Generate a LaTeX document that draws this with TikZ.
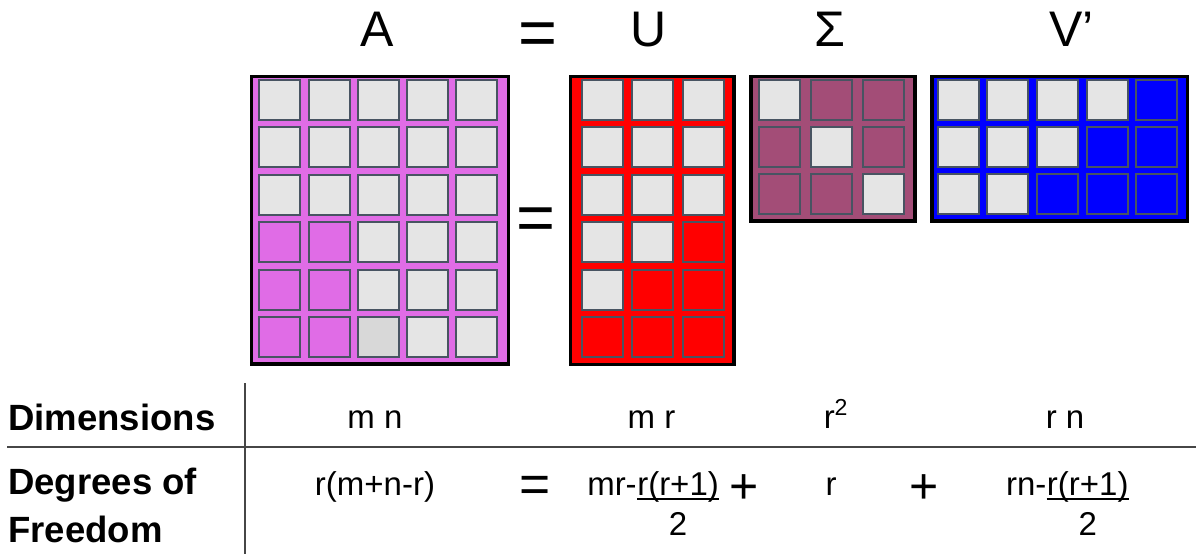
\documentclass[tikz,border=0pt]{standalone}
\usepackage{fontspec}
\setmainfont{Liberation Sans}
\usetikzlibrary{calc}
\newdimen\pxu \pxu=0.75pt
\definecolor{cv}{RGB}{224,108,230}
\definecolor{cs}{RGB}{163,77,119}
\definecolor{cr}{RGB}{255,0,0}
\definecolor{cb}{RGB}{0,0,255}
\definecolor{cg}{RGB}{229,229,229}
\definecolor{cd}{RGB}{216,216,216}
\definecolor{cellline}{RGB}{72,84,98}
\definecolor{rulegray}{RGB}{70,70,70}
\tikzset{
  matbox/.style={draw=black, line width=2.6pt, inner sep=0pt, anchor=north west},
  cell/.style={draw=cellline, line width=1.5pt, inner sep=0pt, minimum width=41\pxu, minimum height=40\pxu, anchor=north west},
  hdr/.style={inner sep=0pt, font=\fontsize{37.5}{45}\selectfont},
  bigeq/.style={inner sep=0pt, font=\fontsize{50}{60}\selectfont},
  tbleq/.style={inner sep=0pt, font=\fontsize{40}{48}\selectfont},
  tblplus/.style={inner sep=0pt, font=\fontsize{37.5}{45}\selectfont},
  lbl/.style={inner sep=0pt, font=\bfseries\fontsize{27.4}{33}\selectfont},
  txt/.style={inner sep=0pt, font=\fontsize{24.75}{30}\selectfont},
  tblrule/.style={draw=rulegray, line width=1.2pt},
  ulrule/.style={draw=black, line width=1.3pt}
}
\newcommand\drawcells[6]{%
  \foreach \row [count=\r] in {#6} {%
    \foreach \col [count=\c] in \row {%
      \node[cell, fill=\col] (#1-\r-\c) at ({#2+(\c-1)*#4+1},{#3+(\r-1)*#5+1}) {};
    }%
  }%
}
\begin{document}
\begin{tikzpicture}[x=0.75pt,y=-0.75pt]
\useasboundingbox (0,0) rectangle (1196,554);

% headers
\node[hdr, anchor=base] (hA) at (376.7,46) {A};
\node[bigeq, anchor=base] (hEq) at (537.5,55) {=};
\node[hdr, anchor=base] (hU) at (649,46) {U};
\node[hdr, anchor=base] (hS) at (829.5,46) {Σ};
\node[hdr, anchor=base west] (hV) at (1049,46) {V’};

% matrix A
\node[matbox, fill=cv, minimum width=256.5\pxu, minimum height=287.8\pxu] (A) at (250,74.5) {};
\drawcells{A}{257.3}{77.7}{49.2}{47.45}{{cg,cg,cg,cg,cg},{cg,cg,cg,cg,cg},{cg,cg,cg,cg,cg},{cv,cv,cg,cg,cg},{cv,cv,cg,cg,cg},{cv,cv,cd,cg,cg}}

% middle equals
\node[bigeq, anchor=base] (mEq) at (536,240) {=};

% matrix U
\node[matbox, fill=cr, minimum width=163.8\pxu, minimum height=288\pxu] (U) at (568.5,74.5) {};
\drawcells{U}{580}{77.7}{50.3}{47.45}{{cg,cg,cg},{cg,cg,cg},{cg,cg,cg},{cg,cg,cr},{cg,cr,cr},{cr,cr,cr}}

% matrix Sigma
\node[matbox, fill=cs, minimum width=164.2\pxu, minimum height=144.8\pxu] (S) at (749.1,74.5) {};
\drawcells{S}{757.3}{78}{51.85}{46.8}{{cg,cs,cs},{cs,cg,cs},{cs,cs,cg}}

% matrix V'
\node[matbox, fill=cb, minimum width=255.9\pxu, minimum height=144.8\pxu] (V) at (930.1,74.5) {};
\drawcells{V}{935.7}{78}{49.65}{46.8}{{cg,cg,cg,cg,cb},{cg,cg,cg,cb,cb},{cg,cg,cb,cb,cb}}

% table rules
\coordinate (vtop) at (245,383);
\coordinate (vbot) at (245,554);
\coordinate (hleft) at (7,447);
\coordinate (hright) at (1196,447);
\draw[tblrule] (vtop) -- (vbot);
\draw[tblrule] (hleft) -- (hright);

% row labels
\node[lbl, anchor=base west] (dim) at (8,430) {Dimensions};
\node[lbl, anchor=base west] (dof1) at (8,494) {Degrees of};
\node[lbl, anchor=base west] (dof2) at (8,542) {Freedom};

% dimensions row
\node[txt, anchor=base] (dA) at (375,428) {m n};
\node[txt, anchor=base] (dU) at (651.5,428) {m r};
\node[txt, anchor=base] (dS) at (836,428) {r\textsuperscript{2}};
\node[txt, anchor=base] (dV) at (1065,428) {r n};

% degrees of freedom row
\node[txt, anchor=base] (fA) at (375,495) {r(m+n-r)};
\node[tbleq, anchor=base] (fEq) at (535,502) {=};
\node[txt, anchor=base east] (fU1) at (637,495) {mr-};
\node[txt, anchor=base west] (fU2) at (fU1.base east) {r(r+1)};
\draw[ulrule] ($(fU2.base west)+(0,4)$) -- ($(fU2.base east)+(0,4)$);
\node[txt, anchor=base] (fU3) at ($(fU2.base)+(0,40)$) {2};
\node[tblplus, anchor=base] (fP1) at (744,503) {+};
\node[txt, anchor=base] (fS) at (831,495) {r};
\node[tblplus, anchor=base] (fP2) at (924,503) {+};
\node[txt, anchor=base east] (fV1) at (1046.7,495) {rn-};
\node[txt, anchor=base west] (fV2) at (fV1.base east) {r(r+1)};
\draw[ulrule] ($(fV2.base west)+(0,4)$) -- ($(fV2.base east)+(0,4)$);
\node[txt, anchor=base] (fV3) at ($(fV2.base)+(0,40)$) {2};
\end{tikzpicture}
\end{document}
